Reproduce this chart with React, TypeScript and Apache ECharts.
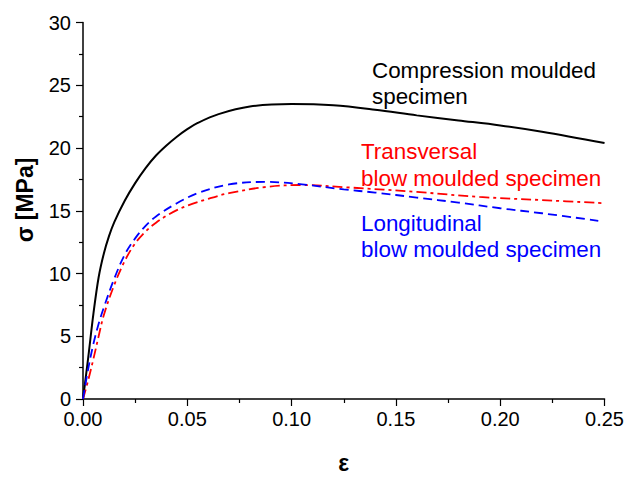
import React, { useEffect, useRef } from "react";
import * as echarts from "echarts";

const compEps = [0, 0.0025, 0.005, 0.0075, 0.01, 0.0125, 0.015, 0.02, 0.025, 0.03, 0.035, 0.04, 0.045, 0.05, 0.055, 0.065, 0.08, 0.1, 0.12, 0.14, 0.16, 0.18, 0.2, 0.22, 0.25];
const compSig = [0, 3.3, 6.8, 9.7, 11.6, 13.0, 14.1, 15.8, 17.2, 18.4, 19.4, 20.2, 20.9, 21.5, 22.0, 22.7, 23.3, 23.5, 23.4, 23.05, 22.6, 22.2, 21.8, 21.3, 20.4];

const transEps = [0, 0.0025, 0.005, 0.0075, 0.01, 0.015, 0.02, 0.025, 0.03, 0.035, 0.04, 0.045, 0.05, 0.06, 0.07, 0.088, 0.105, 0.128, 0.16, 0.19, 0.22, 0.25];
const transSig = [0, 1.5, 3.2, 5.0, 6.7, 9.1, 11.0, 12.4, 13.35, 14.05, 14.6, 15.05, 15.4, 15.95, 16.4, 16.9, 17.05, 16.85, 16.5, 16.1, 15.85, 15.6];

const longEps = [0, 0.0025, 0.005, 0.0075, 0.01, 0.015, 0.02, 0.025, 0.03, 0.035, 0.045, 0.055, 0.07, 0.088, 0.105, 0.125, 0.14, 0.16, 0.18, 0.2, 0.22, 0.247];
const longSig = [0, 2.4, 4.4, 6.0, 7.3, 9.6, 11.5, 12.8, 13.8, 14.55, 15.6, 16.4, 17.1, 17.3, 17.1, 16.7, 16.45, 16.05, 15.65, 15.2, 14.8, 14.2];

const xTicks = [0, 0.05, 0.1, 0.15, 0.2, 0.25];
const yTicks = [0, 5, 10, 15, 20, 25, 30];

const zip = (a: number[], b: number[]) => a.map((v, i) => [v, b[i]]);

export default function App() {
  const ref = useRef<HTMLDivElement>(null);
  useEffect(() => {
    if (!ref.current) return;
    const chart = echarts.init(ref.current, null, { renderer: "svg" });
    const font = "Arial, 'Liberation Sans', sans-serif";
    const textEl = (x: number, y: number, s: string, color: string) => ({
      type: "text",
      left: x,
      top: y,
      style: { text: s, fill: color, font: `22.4px ${font}` },
    });
    chart.setOption({
      animation: false,
      backgroundColor: "#ffffff",
      grid: { left: 83, right: 22, top: 22.5, bottom: 77.5, containLabel: false },
      xAxis: {
        type: "value",
        min: xTicks[0],
        max: xTicks[xTicks.length - 1],
        interval: 0.05,
        name: "ε",
        nameLocation: "middle",
        nameGap: 52,
        nameTextStyle: { fontFamily: font, fontSize: 23, fontWeight: "bold", color: "#000" },
        axisLine: { onZero: false, lineStyle: { color: "#000", width: 1.5 } },
        axisTick: { show: true, length: 7, inside: false, lineStyle: { color: "#000", width: 1.2 } },
        minorTick: { show: true, splitNumber: 2, length: 4, lineStyle: { color: "#000", width: 1.2 } },
        splitLine: { show: false },
        axisLabel: {
          fontFamily: font,
          fontSize: 20,
          color: "#000",
          margin: 10,
          formatter: (v: number) => v.toFixed(2),
        },
      },
      yAxis: {
        type: "value",
        min: yTicks[0],
        max: yTicks[yTicks.length - 1],
        interval: 5,
        axisLine: { show: true, onZero: false, lineStyle: { color: "#000", width: 1.5 } },
        axisTick: { show: true, length: 7, inside: false, lineStyle: { color: "#000", width: 1.2 } },
        minorTick: { show: true, splitNumber: 2, length: 4, lineStyle: { color: "#000", width: 1.2 } },
        splitLine: { show: false },
        axisLabel: { fontFamily: font, fontSize: 20, color: "#000", margin: 12 },
      },
      series: [
        {
          type: "line",
          data: zip(compEps, compSig),
          smooth: 0.35,
          showSymbol: false,
          lineStyle: { color: "#000000", width: 2 },
        },
        {
          type: "line",
          data: zip(transEps, transSig),
          smooth: 0.35,
          showSymbol: false,
          lineStyle: { color: "#ff0000", width: 1.8, type: [10, 4, 3, 4] },
        },
        {
          type: "line",
          data: zip(longEps, longSig),
          smooth: 0.35,
          showSymbol: false,
          lineStyle: { color: "#0000ff", width: 1.8, type: [9, 5] },
        },
      ],
      graphic: [
        {
          type: "text",
          x: 25,
          y: 200,
          rotation: Math.PI / 2,
          style: {
            text: "σ [MPa]",
            fill: "#000",
            font: `bold 23px ${font}`,
            align: "center",
            verticalAlign: "middle",
          },
        },
        textEl(372, 59, "Compression moulded", "#000"),
        textEl(372, 85, "specimen", "#000"),
        textEl(361, 140, "Transversal", "#ff0000"),
        textEl(361, 167, "blow moulded specimen", "#ff0000"),
        textEl(361, 212, "Longitudinal", "#0000ff"),
        textEl(361, 238, "blow moulded specimen", "#0000ff"),
      ],
    });
    return () => chart.dispose();
  }, []);
  return (
    <div
      ref={ref}
      style={{ position: "fixed", left: 0, top: 0, width: 627, height: 479 }}
    />
  );
}
